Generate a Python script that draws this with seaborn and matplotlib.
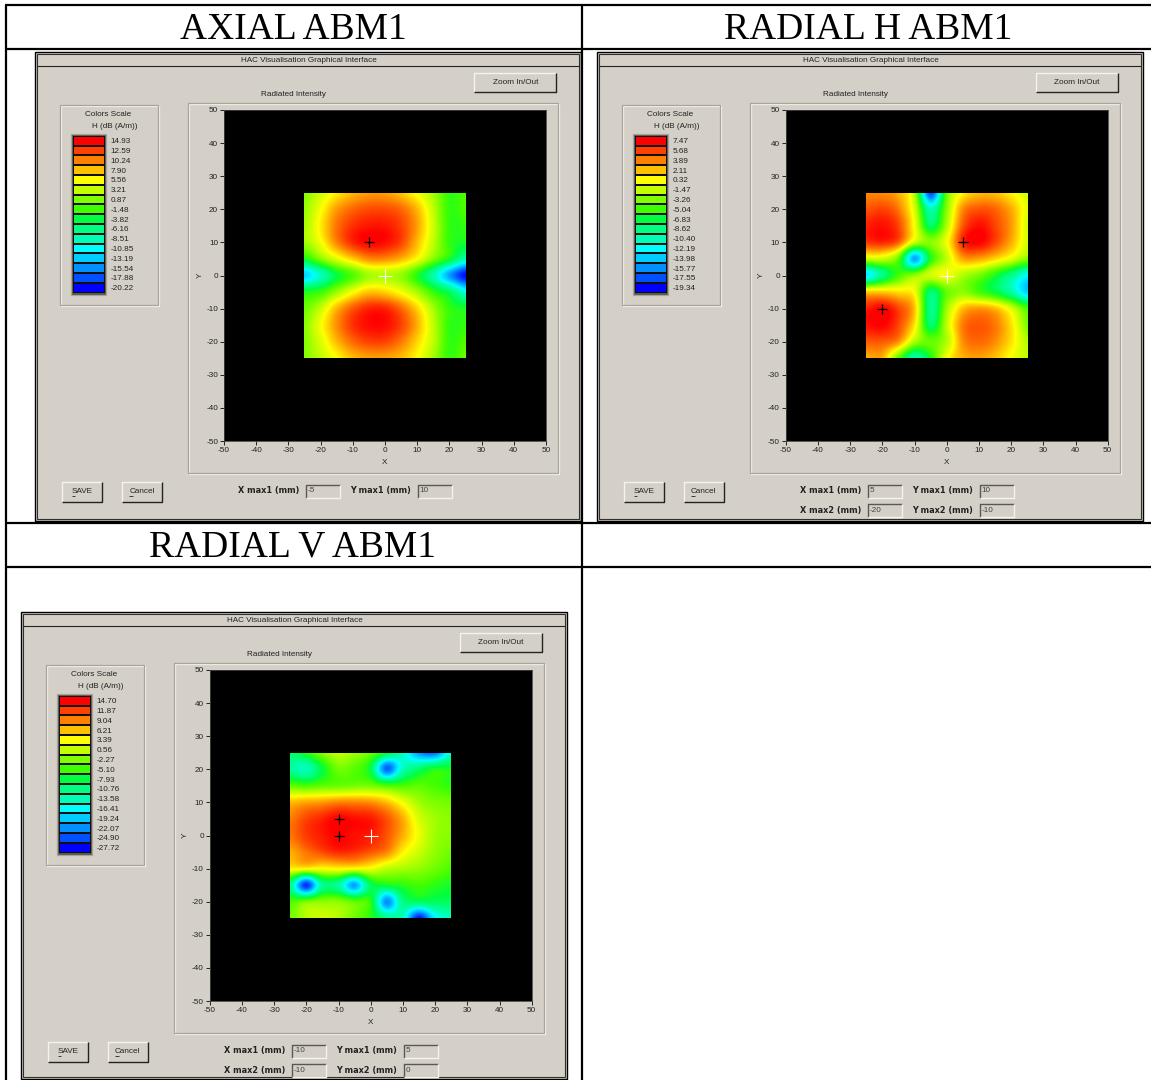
import numpy as np
import pandas as pd
import seaborn as sns
import matplotlib.pyplot as plt
from matplotlib.colors import LinearSegmentedColormap, ListedColormap
from matplotlib.patches import Rectangle

W, H = 1151, 1080
FACE = '#d4d0c8'
SMALL = 5.9

# measured positions, mm
positions = [-25, -20, -15, -10, -5, 0, 5, 10, 15, 20, 25]
rows = positions[::-1]

# colours of the scale, top to bottom
scale_colors = ['#ff0000', '#ff4000', '#ff8000', '#ffc000', '#ffff00', '#c4ff00', '#80ff00', '#40ff00',
                '#00ff40', '#00ff80', '#00ffb4', '#00ffff', '#00ccff', '#0090ff', '#0050ff', '#0000ff']

axial_scale = ['14.93', '12.59', '10.24', '7.90', '5.56', '3.21', '0.87', '-1.48',
               '-3.82', '-6.16', '-8.51', '-10.85', '-13.19', '-15.54', '-17.88', '-20.22']
radial_h_scale = ['7.47', '5.68', '3.89', '2.11', '0.32', '-1.47', '-3.26', '-5.04',
                  '-6.83', '-8.62', '-10.40', '-12.19', '-13.98', '-15.77', '-17.55', '-19.34']
radial_v_scale = ['14.70', '11.87', '9.04', '6.21', '3.39', '0.56', '-2.27', '-5.10',
                  '-7.93', '-10.76', '-13.58', '-16.41', '-19.24', '-22.07', '-24.90', '-27.72']

# H in dB (A/m), top row is y = 25
axial_field = [
    [1, 3.5, 6, 8, 9, 9, 7.5, 5, 2, -2, -1],
    [1.5, 5, 9, 11, 12, 12, 11, 8, 3, -2, -1],
    [2, 6, 10.5, 13, 14, 14, 12.5, 9, 3.5, -2, -2],
    [2, 5, 10, 13.5, 14.9, 14.5, 12.5, 8, 3, -2, -3],
    [-3, 1, 4.5, 7.5, 10, 10, 8.5, 5.5, 1, -3, -8],
    [-13, -9, -4, -1, 2, 2.5, 1.5, -2.5, -8, -15, -20],
    [-3, -2, 1.5, 5, 7.5, 7, 5, 2, -2, -5, -10],
    [0, 3, 8, 11.5, 13.5, 13.5, 11, 7, 2, -2, -3],
    [1, 5, 9.5, 13, 14.5, 14.5, 12.5, 8.5, 3, -2, -2],
    [1, 4, 8, 11, 12.5, 12.5, 10.5, 7, 3, -2, -1],
    [1, 3, 5.5, 8, 9, 9, 8, 5.5, 2, -2, 0],
]
radial_h_field = [
    [3.5, 3.5, 2.5, -2, -18, -4, 0.5, 2, 2, 0.5, -1],
    [5, 5.5, 4, -1, -10.5, -3, 3.5, 5, 4.5, 2.5, -0.5],
    [6.5, 7, 5.5, 0, -8, -2, 5, 7, 5.5, 3, -1],
    [6, 6.5, 5, -1, -3, 0, 6.5, 7.47, 5.5, 2.5, -1],
    [-1, -1, -4, -15, -6, -1.5, 3, 3, 1.5, -0.5, -3],
    [-13, -9, -5, -3, -1, 0, -2, -3.5, -6, -9, -12],
    [1.5, 1.5, 1, 0, -8, -4, -3, -5, -7, -10, -14],
    [6.5, 7.47, 5.5, 2, -9, -2.5, 2, 3, 2, -1, -5],
    [7, 7.47, 5.5, 1, -8, -1.5, 4, 5, 4, 1, -3.5],
    [5, 5, 3.5, -2, -4, -2, 3.5, 4.5, 3.5, 1, -2],
    [2.5, 2.5, -4, -10, -6, 0, 2.5, 3, 2, 0, -1.5],
]
radial_v_field = [
    [-10, -6, -2, 0.5, -1, -3, -7, -14, -22, -24, -15],
    [-12, -14, -8, -3, -4, -8, -24, -14, -10, -7, -7],
    [-4, -5, -4, -3.5, -3, -3, -5, -5, -4, -5, -6],
    [6, 7, 7.5, 8.5, 8.5, 8, 6, 2.5, -1, -2.5, -3],
    [9, 11.5, 13, 14.7, 14, 13.5, 11, 7, 1.5, -1, -2],
    [9.5, 12, 13.5, 14.7, 14, 13.5, 11, 7, 2.5, -1, -2],
    [7, 9.5, 11.5, 13, 12.5, 11, 9, 4, 1, -1.5, -3],
    [4, 4, 3.5, 4, 3.5, 3, 0.5, -0.5, -1.5, -3, -4.5],
    [-11, -26, -12, -12, -21, -9, -7, -6, -5, -6, -7],
    [-5, -3, -2, -2, -4, -6, -22, -11, -9, -9, -9],
    [-3, 0, 1, 0, -3, -6, -11, -14, -27, -17, -14],
]

axial_max_x, axial_max_y = [-5], [10]
radial_h_max_x, radial_h_max_y = [5, -20], [10, -10]
radial_v_max_x, radial_v_max_y = [-10, -10], [5, 0]

table_titles = ['AXIAL ABM1', 'RADIAL H ABM1', 'RADIAL V ABM1']
axis_ticks = list(range(-50, 60, 10))


def rect(x0, y0, x1, y1):
    # pixel box to figure fractions
    return [x0 / W, 1 - y1 / H, (x1 - x0) / W, (y1 - y0) / H]


def line(page, xs, ys, color='black', lw=0.8):
    page.plot(xs, ys, color=color, lw=lw, solid_capstyle='butt')


def etched(page, x0, y0, x1, y1):
    page.add_patch(Rectangle((x0 + 1, y0 + 1), x1 - x0, y1 - y0, fill=False, ec='#f4f3ef', lw=0.9))
    page.add_patch(Rectangle((x0, y0), x1 - x0, y1 - y0, fill=False, ec='#a8a498', lw=0.9))


def bevel(page, x0, y0, x1, y1, raised=True):
    light, dark = ('#f4f3ef', '#222222') if raised else ('#5a5850', '#f4f3ef')
    line(page, [x0, x0, x1], [y1, y0, y0], light, 1.0)
    line(page, [x0, x1, x1], [y1, y1, y0], dark, 1.0)


def button(page, x0, y0, x1, y1, label, underline=None):
    bevel(page, x0, y0, x1, y1)
    page.text((x0 + x1) / 2, (y0 + y1) / 2, label, ha='center', va='center', fontsize=SMALL, color='#222222')
    if underline:
        line(page, underline, [(y0 + y1) / 2 + 4.5] * 2, '#222222', 0.6)


def readout(page, x, y, name, value):
    page.text(x, y, name, ha='left', va='center', fontsize=5.9, family='DejaVu Sans', weight='bold', color='#222222')
    box = x + 68
    bevel(page, box, y - 6.5, box + 34, y + 6.5, raised=False)
    page.text(box + 1.5, y, value, ha='left', va='center', fontsize=SMALL, color='#444444')


def draw_panel(fig, page, dx, dy, bottom, field, scale, max_x, max_y, readouts):
    # dialog frame
    page.add_patch(Rectangle((35.5 + dx, 51.5 + dy), 546, bottom - 51.5, fc=FACE, ec='black', lw=1.0))
    page.add_patch(Rectangle((37.5 + dx, 53.5 + dy), 542, bottom - 55.5, fill=False, ec='#303030', lw=0.8))
    line(page, [37.5 + dx, 579.5 + dx], [65.5 + dy, 65.5 + dy], '#222222', 0.8)
    page.text(309 + dx, 60 + dy, 'HAC Visualisation Graphical Interface', ha='center', va='center',
              fontsize=SMALL, color='#222222')
    page.text(294 + dx, 94 + dy, 'Radiated Intensity', ha='center', va='center', fontsize=SMALL, color='#222222')
    button(page, 474.5 + dx, 72.5 + dy, 556 + dx, 92 + dy, 'Zoom In/Out')
    button(page, 62 + dx, 482 + dy, 102 + dx, 501.5 + dy, 'SAVE', [72 + dx, 75.5 + dx])
    button(page, 122 + dx, 482 + dy, 162 + dx, 501.5 + dy, 'Cancel', [129 + dx, 133 + dx])
    etched(page, 60 + dx, 105 + dy, 158 + dx, 305 + dy)
    etched(page, 188 + dx, 103 + dy, 558 + dx, 473 + dy)
    page.text(108.5 + dx, 115 + dy, 'Colors Scale', ha='center', va='center', fontsize=SMALL, color='#222222')
    page.text(115 + dx, 126 + dy, 'H (dB (A/m))', ha='center', va='center', fontsize=SMALL, color='#222222')
    page.text(200 + dx, 275 + dy, 'Y', ha='center', va='center', rotation=90, fontsize=SMALL, color='#222222')
    page.text(385 + dx, 463 + dy, 'X', ha='center', va='center', fontsize=SMALL, color='#222222')
    page.add_patch(Rectangle((71.5 + dx, 134 + dy), 35, 160.5, fc='#555555', ec='#a8a498', lw=0.9))
    for x, y, name, value in readouts:
        readout(page, x + dx, y + dy, name, value)

    # colour scale swatches
    levels = [float(v) for v in scale]
    scale_df = pd.DataFrame({'H': levels}, index=scale)
    key = fig.add_axes(rect(73 + dx, 135.7 + dy, 105 + dx, 292.7 + dy))
    step = (levels[0] - levels[-1]) / 15
    sns.heatmap(scale_df, ax=key, cmap=ListedColormap(scale_colors[::-1]), vmin=levels[-1] - step / 2,
                vmax=levels[0] + step / 2, cbar=False, xticklabels=False, yticklabels=True,
                linewidths=0.35, linecolor='#101010')
    key.yaxis.tick_right()
    key.tick_params(axis='y', length=0, pad=4.2, labelsize=SMALL, labelcolor='#222222', labelrotation=0)
    key.set_xlabel('')
    key.set_ylabel('')

    # black plot area
    ax = fig.add_axes(rect(224 + dx, 110 + dy, 546 + dx, 441 + dy))
    ax.set_facecolor('black')
    ax.set_xlim(-50, 50)
    ax.set_ylim(-50, 50)
    ax.set_xticks(axis_ticks)
    ax.set_yticks(axis_ticks)
    ax.tick_params(bottom=True, left=True, length=3, width=0.7, pad=1.2, labelsize=SMALL,
                   color='#222222', labelcolor='#222222')
    for spine in ax.spines.values():
        spine.set_linewidth(0.6)
        spine.set_color('#444444')

    # the measured square, nodes at cell centres
    inner = ax.inset_axes([-25, -25, 50, 50], transform=ax.transData, zorder=1)
    field_df = pd.DataFrame(field, index=rows, columns=positions)
    field_cmap = LinearSegmentedColormap.from_list('scale', scale_colors[::-1])
    sns.heatmap(field_df, ax=inner, cmap=field_cmap, vmin=levels[-1], vmax=levels[0], cbar=False,
                xticklabels=False, yticklabels=False)
    inner.imshow(field_df.values, cmap=field_cmap, vmin=levels[-1], vmax=levels[0], aspect='auto',
                 interpolation='catrom', extent=(0, 11, 11, 0), zorder=2)
    inner.set_xlim(0.5, 10.5)
    inner.set_ylim(10.5, 0.5)
    inner.set_xlabel('')
    inner.set_ylabel('')
    inner.set_xticks([])
    inner.set_yticks([])
    for spine in inner.spines.values():
        spine.set_visible(False)

    ax.plot(max_x, max_y, '+', color='black', ms=6.5, mew=0.9, zorder=3)
    ax.plot([0], [0], '+', color='white', ms=10, mew=0.8, zorder=3)


sns.set_theme(style='white')
plt.rcParams['font.family'] = ['Liberation Sans', 'DejaVu Sans']
plt.rcParams['axes.unicode_minus'] = False

fig = plt.figure(figsize=(W / 100, H / 100), dpi=100, facecolor='white')
page = fig.add_axes([0, 0, 1, 1], zorder=0)
page.set_xlim(0, W)
page.set_ylim(H, 0)
page.axis('off')

# table rules
for y in [5, 49, 522.5, 566.5]:
    line(page, [5, W], [y, y], 'black', 1.6)
line(page, [6, 6], [5, H], 'black', 1.6)
line(page, [582, 582], [5, H], 'black', 1.6)

page.text(293, 29.5, table_titles[0], ha='center', va='center', fontsize=27, family='Liberation Serif', color='black')
page.text(868.5, 29.5, table_titles[1], ha='center', va='center', fontsize=27, family='Liberation Serif', color='black')
page.text(293, 547.5, table_titles[2], ha='center', va='center', fontsize=27, family='Liberation Serif', color='black')

draw_panel(fig, page, 0, 0, 521, axial_field, axial_scale, axial_max_x, axial_max_y,
           [(238, 491, 'X max1 (mm)', '-5'), (350, 491, 'Y max1 (mm)', '10')])
draw_panel(fig, page, 561.7, 0, 521, radial_h_field, radial_h_scale, radial_h_max_x, radial_h_max_y,
           [(238, 491, 'X max1 (mm)', '5'), (350, 491, 'Y max1 (mm)', '10'),
            (238, 510, 'X max2 (mm)', '-20'), (350, 510, 'Y max2 (mm)', '-10')])
draw_panel(fig, page, -14.3, 560, 519, radial_v_field, radial_v_scale, radial_v_max_x, radial_v_max_y,
           [(238, 491, 'X max1 (mm)', '-10'), (350, 491, 'Y max1 (mm)', '5'),
            (238, 510, 'X max2 (mm)', '-10'), (350, 510, 'Y max2 (mm)', '0')])

fig.savefig('out.png', dpi=100)
